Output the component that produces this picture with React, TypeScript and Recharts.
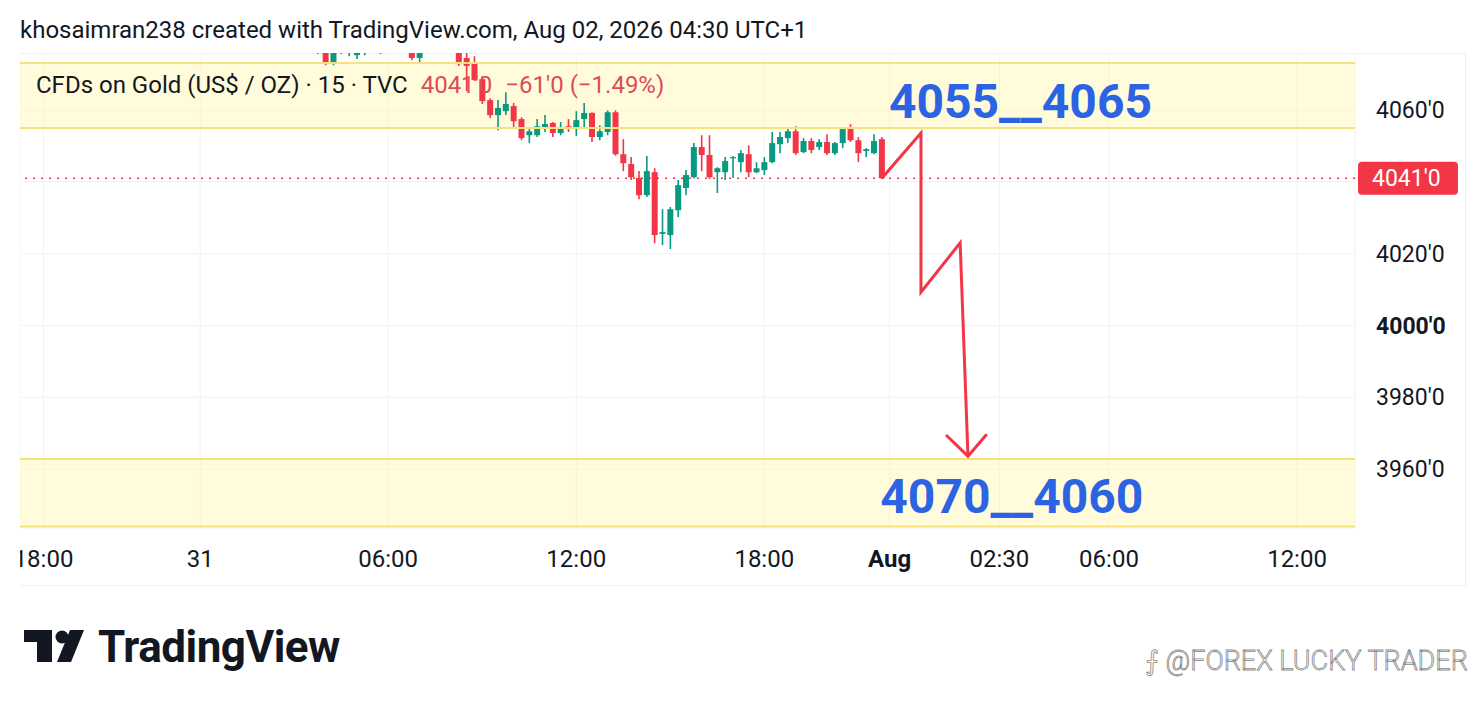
import React from "react";
import {
  ComposedChart,
  Bar,
  Line,
  XAxis,
  YAxis,
  CartesianGrid,
  ReferenceArea,
  ReferenceLine,
  ReferenceDot,
} from "recharts";

// 15-minute bar index (slot) -> OHLC
const slots = [
  38, 39, 40, 41, 42, 43, 44, 45, 46, 47, 48, 49, 50, 51, 52, 53, 54, 55, 56, 57, 58, 59, 60, 61,
  62, 63, 64, 65, 66, 67, 68, 69, 70, 71, 72, 73, 74, 75, 76, 77, 78, 79, 80, 81, 82, 83, 84, 85,
  86, 87, 88, 89, 90, 91, 92, 93, 94, 95, 96, 97, 98, 99, 100, 101, 102, 103, 104, 105, 106, 107,
  108, 109, 110,
];
const opens = [
  4076.5, 4076.5, 4073.1, 4078, 4077, 4075.3, 4076.5, 4079, 4078, 4077, 4080, 4078, 4078, 4074.5,
  4077, 4081, 4084, 4082, 4078.1, 4074.5, 4073.1, 4068.6, 4062.8, 4058.6, 4059.7, 4061.1, 4057.5,
  4053.0, 4053.0, 4055.3, 4056.4, 4053.6, 4055.5, 4054.7, 4057.5, 4059.2, 4052.5, 4053.9, 4059.4,
  4047.7, 4045.0, 4041.1, 4036.3, 4042.7, 4025.5, 4025.2, 4032.1, 4038.3, 4041.3, 4049.7, 4047.5,
  4042.7, 4042.7, 4046.6, 4045.5, 4047.7, 4042.7, 4043.3, 4045.5, 4050.5, 4052.2, 4054.1, 4048.3,
  4051.4, 4049.7, 4051.1, 4048.0, 4050.8, 4054.7, 4051.6, 4048.6, 4048.0, 4051.9,
];
const highs = [
  4079, 4078, 4078, 4079, 4080, 4079, 4079, 4081, 4079, 4081, 4082, 4080, 4080, 4078, 4082, 4086,
  4087, 4084, 4079.5, 4078.1, 4075.0, 4069.5, 4063.3, 4062.8, 4065.0, 4062.0, 4058.0, 4055.3,
  4057.5, 4058.6, 4056.7, 4056.7, 4057.5, 4059.7, 4062.0, 4059.4, 4055.8, 4059.9, 4059.9, 4051.9,
  4046.9, 4043.0, 4047.2, 4043.8, 4032.4, 4033.0, 4040.5, 4043.3, 4050.8, 4053.0, 4053.0, 4044.1,
  4046.9, 4047.2, 4048.9, 4050.2, 4045.5, 4046.9, 4053.9, 4053.9, 4055.3, 4055.5, 4052.2, 4052.2,
  4051.9, 4053.3, 4051.1, 4055.0, 4056.1, 4052.5, 4049.4, 4053.3, 4052.5,
];
const lows = [
  4075.6, 4072.5, 4072.5, 4075.6, 4075.0, 4074.2, 4075.3, 4076.5, 4075.6, 4076.5, 4077, 4076.3,
  4073.9, 4073.4, 4076.5, 4079, 4080, 4078, 4072.3, 4065.3, 4068.1, 4061.7, 4057.8, 4054.4, 4058.6,
  4055.3, 4051.6, 4050.8, 4052.5, 4053.9, 4052.5, 4053.0, 4053.9, 4052.8, 4054.7, 4051.1, 4051.6,
  4053.0, 4047.3, 4043.0, 4040.5, 4035.2, 4035.8, 4022.9, 4022.4, 4021.3, 4030.2, 4036.3, 4041.0,
  4043.0, 4040.8, 4036.9, 4040.5, 4041.1, 4042.7, 4041.3, 4042.4, 4041.9, 4045.2, 4048.0, 4050.8,
  4047.5, 4048.0, 4048.0, 4048.9, 4047.5, 4047.5, 4049.4, 4051.1, 4045.5, 4046.9, 4047.7, 4041.0,
];
const closes = [
  4078, 4073.1, 4077, 4076.5, 4078.5, 4077.5, 4078, 4078, 4077, 4080, 4078, 4079, 4074.5, 4077,
  4081, 4084, 4082, 4079, 4072.8, 4072.3, 4068.4, 4062.5, 4058.6, 4060.6, 4061.7, 4056.9, 4052.2,
  4054.1, 4055.5, 4056.1, 4053.6, 4055.3, 4055.0, 4057.2, 4059.2, 4052.5, 4054.1, 4059.4, 4047.7,
  4045.2, 4041.3, 4036.3, 4043.0, 4025.2, 4026.0, 4032.4, 4039.1, 4041.9, 4049.7, 4047.5, 4041.3,
  4043.8, 4045.8, 4046.9, 4048.0, 4042.7, 4043.8, 4045.5, 4050.8, 4052.5, 4054.1, 4048.0, 4051.4,
  4048.9, 4051.1, 4048.0, 4050.8, 4054.7, 4051.6, 4048.0, 4049.1, 4051.4, 4041.0,
];

// drawn projection (zig-zag) and its arrow head
const arrowSlots = [110, 115, 115, 120, 121];
const arrowPrices = [4041, 4053.6, 4009.3, 4023.0, 3963.6];
const headSlots = [118.2, 121, 123.4];
const headPrices = [3969.5, 3963.6, 3969.7];

// zones
const upperZone = [4055.0, 4073.1];
const lowerZone = [3944.0, 3962.8];
const lastPrice = 4041;

const timeTickSlots = [3, 23, 47, 71, 95, 111, 125, 139, 163];
const timeTickLabels = ["18:00", "31", "06:00", "12:00", "18:00", "Aug", "02:30", "06:00", "12:00"];
const priceTicks = [3960, 3980, 4000, 4020, 4040, 4060];

const GREEN = "#089981";
const RED = "#f23645";
const TEXT = "#131722";
const BLUE = "#2b63e3";
const ZONE_LINE = "#f4e37c";

const candles = slots.map((s, i) => ({
  slot: s,
  open: opens[i],
  high: highs[i],
  low: lows[i],
  close: closes[i],
  range: [lows[i], highs[i]],
}));
const arrowData = arrowSlots.map((s, i) => ({ slot: s, price: arrowPrices[i] }));
const headData = headSlots.map((s, i) => ({ slot: s, price: headPrices[i] }));

const Candle = (props: any) => {
  let { x, y, width, height, payload } = props;
  if (height < 0) {
    y = y + height;
    height = -height;
  }
  const { open, close, high, low } = payload;
  const color = close >= open ? GREEN : RED;
  const ratio = height / (high - low);
  const py = (v: number) => y + (high - v) * ratio;
  const cx = x + width / 2;
  const top = py(Math.max(open, close));
  const bot = py(Math.min(open, close));
  return (
    <g>
      <line x1={cx} x2={cx} y1={y} y2={y + height} stroke={color} strokeWidth={1.6} />
      <rect x={x} y={top} width={width} height={Math.max(1.2, bot - top)} fill={color} />
    </g>
  );
};

const TimeTick = (props: any) => {
  const { x, payload } = props;
  const idx = timeTickSlots.indexOf(payload.value);
  const label = timeTickLabels[idx] ?? "";
  return (
    <text x={x} y={514} textAnchor="middle" fontSize={24} fill={TEXT} fontWeight={label === "Aug" ? 700 : 400}>
      {label}
    </text>
  );
};

const PriceTick = (props: any) => {
  const { x, y, payload } = props;
  if (payload.value === 4040) return null;
  return (
    <text x={x + 13} y={y + 8} textAnchor="start" fontSize={23} fill={TEXT} fontWeight={payload.value === 4000 ? 700 : 400}>
      {`${payload.value}'0`}
    </text>
  );
};

const PriceBadge = (props: any) => {
  const vb = props.viewBox;
  const right = vb.x + vb.width;
  return (
    <g>
      <rect x={right + 3} y={vb.y - 16.5} width={100} height={33} rx={4} fill={RED} />
      <text x={right + 17} y={vb.y + 8} fontSize={23} fill="#ffffff">{`${lastPrice}'0`}</text>
    </g>
  );
};

const zoneLabel = (text: string) => (props: any) => {
  const vb = props.viewBox;
  return (
    <text x={vb.x} y={vb.y} textAnchor="middle" fontSize={48} fontWeight={700} fill={BLUE}>
      {text}
    </text>
  );
};

export default function App() {
  return (
    <div
      style={{
        position: "absolute",
        left: 0,
        top: 0,
        width: 1484,
        height: 706,
        background: "#ffffff",
        fontFamily: "Roboto, 'Noto Sans', sans-serif",
        color: TEXT,
        overflow: "hidden",
      }}
    >
      <div style={{ position: "absolute", left: 20, top: 15, fontSize: 24, lineHeight: "30px", whiteSpace: "nowrap" }}>
        khosaimran238 created with TradingView.com, Aug 02, 2026 04:30 UTC+1
      </div>

      <div
        style={{
          position: "absolute",
          left: 20,
          top: 53,
          width: 1446,
          height: 533,
          borderTop: "1px solid #eef0f3",
          borderRight: "1px solid #eef0f3",
          borderBottom: "1px solid #eef0f3",
          boxSizing: "border-box",
        }}
      />

      <div style={{ position: "absolute", left: 20, top: 53 }}>
        <ComposedChart width={1446} height={533} data={candles} margin={{ top: 0, right: 0, bottom: 0, left: 0 }}>
          <CartesianGrid stroke="#f0f2f5" strokeWidth={1} />
          <XAxis
            dataKey="slot"
            type="number"
            domain={[0, 170.4]}
            allowDataOverflow
            ticks={timeTickSlots}
            tick={<TimeTick />}
            tickLine={false}
            axisLine={false}
            height={58}
            interval={0}
          />
          <YAxis
            orientation="right"
            type="number"
            domain={[3943.6, 4075.9]}
            allowDataOverflow
            ticks={priceTicks}
            tick={<PriceTick />}
            tickLine={false}
            axisLine={false}
            width={111}
            interval={0}
          />
          <ReferenceArea y1={upperZone[0]} y2={upperZone[1]} fill="#fff6b0" fillOpacity={0.45} stroke="none" />
          <ReferenceArea y1={lowerZone[0]} y2={lowerZone[1]} fill="#fff6b0" fillOpacity={0.45} stroke="none" />
          <ReferenceLine y={upperZone[0]} stroke={ZONE_LINE} strokeWidth={2} />
          <ReferenceLine y={upperZone[1]} stroke={ZONE_LINE} strokeWidth={2} />
          <ReferenceLine y={lowerZone[0]} stroke={ZONE_LINE} strokeWidth={2} />
          <ReferenceLine y={lowerZone[1]} stroke={ZONE_LINE} strokeWidth={2} />
          <ReferenceLine y={lastPrice} stroke={RED} strokeWidth={1.5} strokeDasharray="2 6" label={PriceBadge} />
          <Bar dataKey="range" barSize={6} shape={<Candle />} isAnimationActive={false} />
          <Line
            data={arrowData}
            dataKey="price"
            type="linear"
            stroke={RED}
            strokeWidth={3}
            strokeLinejoin="miter"
            dot={false}
            activeDot={false}
            isAnimationActive={false}
          />
          <Line
            data={headData}
            dataKey="price"
            type="linear"
            stroke={RED}
            strokeWidth={3}
            dot={false}
            activeDot={false}
            isAnimationActive={false}
          />
          <ReferenceDot x={127.7} y={4057.8} r={0} fill="none" stroke="none" label={zoneLabel("4055__4065")} />
          <ReferenceDot x={126.6} y={3947.7} r={0} fill="none" stroke="none" label={zoneLabel("4070__4060")} />
        </ComposedChart>
      </div>

      <div style={{ position: "absolute", left: 36, top: 70, fontSize: 24, lineHeight: "30px", whiteSpace: "nowrap" }}>
        CFDs on Gold (US$ / OZ) · 15 · TVC
        <span style={{ color: "#dc4c55", marginLeft: 13 }}>4041'0</span>
        <span style={{ color: "#dc4c55", marginLeft: 13 }}>−61'0 (−1.49%)</span>
      </div>

      <svg style={{ position: "absolute", left: 0, top: 610 }} width={420} height={80}>
        <path d="M24 20 H52 V52 H37 V32 H24 Z" fill={TEXT} />
        <circle cx={62} cy={27} r={6.5} fill={TEXT} />
        <path d="M70 20 H84 L71 52 H57 Z" fill={TEXT} />
        <text x={98} y={52} fontSize={44} fontWeight={700} fill={TEXT} letterSpacing={-0.5}>
          TradingView
        </text>
      </svg>

      <div
        style={{
          position: "absolute",
          left: 1145,
          top: 644,
          fontSize: 27,
          lineHeight: "34px",
          whiteSpace: "nowrap",
          color: "#ffffff",
          WebkitTextStroke: "0.8px #8a8a8a",
          fontWeight: 300,
        }}
      >
        ⨍ @FOREX LUCKY TRADER
      </div>
    </div>
  );
}
